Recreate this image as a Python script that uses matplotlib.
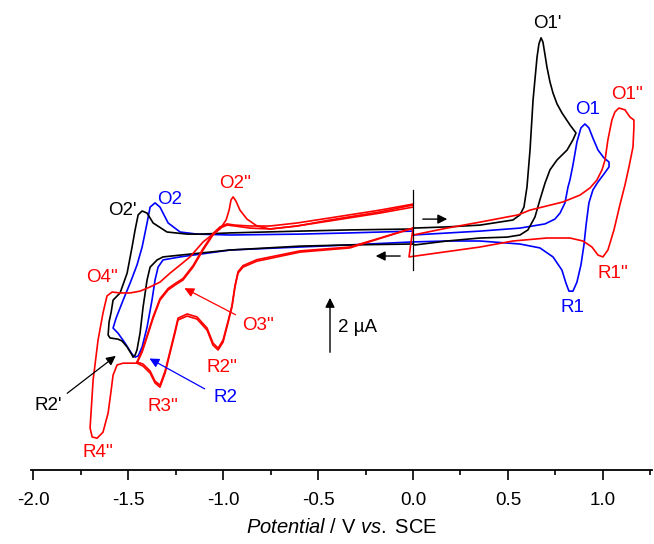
import matplotlib
matplotlib.use('Agg')
import matplotlib.pyplot as plt
from matplotlib.ticker import MultipleLocator

plt.rcParams['font.family'] = ['Liberation Sans', 'DejaVu Sans']
plt.rcParams['mathtext.fontset'] = 'custom'
plt.rcParams['mathtext.rm'] = 'Liberation Sans'
plt.rcParams['mathtext.it'] = 'Liberation Sans:italic'

# potential in V vs SCE, current in uA (anodic up)
black_v = [0.0, 0.179, 0.353, 0.526, 0.563, 0.584, 0.600, 0.616, 0.632, 0.653, 0.663, 0.674, 0.684,
           0.695, 0.705, 0.721, 0.737, 0.758, 0.784, 0.826, 0.858, 0.842, 0.811, 0.758, 0.721, 0.695,
           0.668, 0.642, 0.605, 0.563, 0.495, 0.353, 0.179, 0.011, 0.0,
           -0.332, -0.595, -0.963, -1.226, -1.316, -1.347, -1.384, -1.400, -1.421, -1.437, -1.453,
           -1.463, -1.474, -1.479, -1.505, -1.532, -1.553, -1.595, -1.605, -1.600, -1.589, -1.579,
           -1.542, -1.505, -1.479, -1.463, -1.447, -1.426, -1.400, -1.368, -1.295, -1.189, -1.121,
           -0.963, -0.595, -0.332, 0.0]
black_i = [0.13, 0.17, 0.23, 0.40, 0.57, 0.83, 1.50, 2.73, 4.40, 5.83, 6.27, 6.47, 6.33,
           5.90, 5.50, 5.00, 4.63, 4.27, 3.97, 3.57, 3.30, 3.07, 2.73, 2.40, 2.07, 1.63,
           1.07, 0.50, 0.07, -0.10, -0.17, -0.20, -0.30, -0.43, -0.40,
           -0.43, -0.47, -0.60, -0.77, -0.83, -0.93, -1.17, -1.60, -2.50, -3.37, -3.93,
           -4.10, -4.17, -4.10, -3.83, -3.63, -3.57, -3.53, -3.43, -3.00, -2.67, -2.27,
           -2.03, -1.37, -0.50, 0.07, 0.57, 0.70, 0.63, 0.30, 0.00, -0.07, -0.07,
           -0.03, 0.03, 0.07, 0.10]

blue_v = [0.0, 0.353, 0.563, 0.695, 0.747, 0.774, 0.800, 0.816, 0.826, 0.842, 0.863, 0.884, 0.905,
          0.926, 0.947, 0.974, 1.005, 1.032, 1.032, 1.005, 0.974, 0.947, 0.926, 0.911, 0.900, 0.884,
          0.863, 0.842, 0.821, 0.805, 0.784, 0.737, 0.668, 0.563, 0.353, 0.179, 0.0,
          -0.332, -0.595, -0.963, -1.226, -1.316, -1.342, -1.358, -1.374, -1.400, -1.426, -1.447,
          -1.463, -1.479, -1.516, -1.553, -1.579, -1.563, -1.526, -1.489, -1.453, -1.426, -1.400,
          -1.384, -1.358, -1.332, -1.289, -1.226, -1.137, -0.963, -0.595, -0.332, 0.0]
blue_i = [-0.10, 0.03, 0.13, 0.27, 0.43, 0.63, 0.97, 1.50, 1.73, 2.23, 3.00, 3.47, 3.60,
          3.47, 3.13, 2.73, 2.47, 2.33, 2.17, 1.93, 1.67, 1.40, 0.97, 0.23, -0.43, -1.10,
          -1.67, -1.97, -1.97, -1.70, -1.27, -0.83, -0.53, -0.40, -0.30, -0.30, -0.33,
          -0.43, -0.50, -0.60, -0.83, -0.93, -1.17, -1.60, -2.27, -3.17, -3.83, -4.13,
          -4.17, -4.07, -3.70, -3.37, -3.20, -2.87, -2.27, -1.70, -1.10, -0.50, 0.30,
          0.83, 0.97, 0.83, 0.30, 0.00, -0.07, -0.10, -0.07, -0.03, 0.03]

# red: positive loop, then first cathodic sweep down to -1.7 V
red_pos_v = [0.0, 0.179, 0.353, 0.553, 0.616, 0.789, 0.879, 0.932, 0.968, 0.995, 1.011, 1.026, 1.047,
             1.063, 1.084, 1.116, 1.142, 1.163, 1.163, 1.158, 1.137, 1.116, 1.089, 1.058, 1.026,
             1.000, 0.974, 0.942, 0.895, 0.826, 0.705, 0.526, 0.353, -0.021, 0.0]
red_pos_i = [-0.10, 0.13, 0.33, 0.57, 0.73, 1.00, 1.23, 1.47, 1.73, 2.07, 2.40, 3.07, 3.73,
             4.00, 4.13, 4.07, 3.83, 3.73, 3.50, 2.83, 2.17, 1.57, 0.90, 0.07, -0.60,
             -0.83, -0.77, -0.50, -0.30, -0.20, -0.20, -0.30, -0.50, -0.83, 0.13]

red_cat_v = [0.0, -0.332, -0.595, -0.789, -0.821, -0.895, -0.921, -0.937, -0.953, -0.974, -1.000,
             -1.026, -1.053, -1.084, -1.137, -1.189, -1.237, -1.253, -1.279, -1.305, -1.332, -1.358,
             -1.384, -1.421, -1.453]
red_cat_i = [0.13, -0.53, -0.67, -0.93, -0.97, -1.17, -1.37, -1.83, -2.50, -3.03, -3.67,
             -3.93, -3.77, -3.27, -2.90, -2.80, -2.93, -3.37, -4.03, -4.70, -5.17, -5.03,
             -4.70, -4.47, -4.37]
red_cat2_i = [0.13, -0.50, -0.63, -0.88, -0.92, -1.12, -1.32, -1.78, -2.45, -2.98, -3.60,
              -3.87, -3.70, -3.20, -2.83, -2.73, -2.87, -3.30, -3.97, -4.63, -5.10, -4.97,
              -4.63, -4.40, -4.33]

red_deep_v = [-1.453, -1.489, -1.526, -1.558, -1.579, -1.589, -1.605, -1.632, -1.663, -1.689, -1.700,
              -1.695, -1.684, -1.658, -1.632, -1.611, -1.584, -1.542, -1.489, -1.437, -1.384, -1.332,
              -1.279, -1.226, -1.174, -1.105, -1.053, -1.016, -0.984, -0.968, -0.958, -0.947, -0.932,
              -0.911, -0.874, -0.821, -0.753, -0.611, -0.437, -0.174, 0.0]
red_deep_i = [-4.37, -4.37, -4.37, -4.43, -4.77, -5.27, -6.03, -6.67, -6.87, -6.83, -6.53,
              -6.03, -4.93, -3.60, -2.70, -2.13, -2.00, -2.03, -2.03, -1.97, -1.83, -1.67,
              -1.37, -1.10, -0.83, -0.33, -0.07, 0.10, 0.40, 0.73, 1.07, 1.17, 1.03,
              0.73, 0.43, 0.20, 0.10, 0.20, 0.40, 0.67, 0.90]

red_ret_v = [-1.453, -1.426, -1.400, -1.368, -1.332, -1.289, -1.253, -1.211, -1.158, -1.105, -1.053,
             -1.016, -0.979, -0.937, -0.858, -0.753, -0.611, -0.437, -0.174, 0.0]
red_ret_i = [-4.37, -4.00, -3.50, -2.87, -2.27, -1.93, -1.77, -1.60, -1.17, -0.60, -0.10,
             0.13, 0.23, 0.20, 0.13, 0.10, 0.20, 0.37, 0.63, 0.83]
red_ret3_i = [-4.33, -3.95, -3.45, -2.82, -2.22, -1.88, -1.72, -1.55, -1.12, -0.55, -0.05,
              0.17, 0.27, 0.23, 0.20, 0.20, 0.30, 0.47, 0.73, 0.93]

labels = [("O1'", 0.705, 6.95, 'k'), ('O1', 0.921, 4.07, 'b'), ("O1''", 1.126, 4.57, 'r'),
          ('R1', 0.837, -2.53, 'b'), ("R1''", 1.053, -1.37, 'r'),
          ("O2'", -1.532, 0.73, 'k'), ('O2', -1.279, 1.07, 'b'), ("O2''", -0.937, 1.63, 'r'),
          ("O4''", -1.637, -1.50, 'r'), ("R2''", -1.005, -4.53, 'r'), ("R3''", -1.316, -5.83, 'r'),
          ("R4''", -1.658, -7.33, 'r')]
pointers = [("O3''", -0.816, -3.10, -0.921, -2.80, -1.216, -1.83, 'r'),
            ('R2', -0.989, -5.53, -1.084, -5.27, -1.400, -4.17, 'b'),
            ("R2'", -1.921, -5.77, -1.832, -5.43, -1.553, -4.07, 'k')]

fig = plt.figure(figsize=(6.54, 5.44), dpi=100)
ax = fig.add_axes([0.0474, 0.136, 0.9495, 0.864])

lw = 1.2
ax.plot(blue_v, blue_i, color='#0000ff', lw=lw)
ax.plot(black_v, black_i, color='k', lw=lw)
ax.plot(red_pos_v, red_pos_i, color='#ff0000', lw=lw)
ax.plot(red_cat_v, red_cat_i, color='#ff0000', lw=lw)
ax.plot(red_cat_v, red_cat2_i, color='#ff0000', lw=lw)
ax.plot(red_deep_v, red_deep_i, color='#ff0000', lw=lw)
ax.plot(red_ret_v, red_ret_i, color='#ff0000', lw=lw)
ax.plot(red_ret_v, red_ret3_i, color='#ff0000', lw=lw)

for txt, x, y, c in labels:
    ax.text(x, y, txt, color=c, fontsize=13.5, ha='center', va='center')
for txt, tx, ty, x0, y0, x1, y1, c in pointers:
    ax.text(tx, ty, txt, color=c, fontsize=13.5, ha='center', va='center')
    ax.annotate('', xy=(x1, y1), xytext=(x0, y0),
                arrowprops=dict(arrowstyle='-|>', color=c, lw=0.9, mutation_scale=14))

# scan direction marks at the start potential
ax.plot([0, 0], [1.40, -1.27], color='k', lw=0.9)
ax.annotate('', xy=(0.195, 0.43), xytext=(0.037, 0.43),
            arrowprops=dict(arrowstyle='-|>', color='k', lw=1.0, mutation_scale=14))
ax.annotate('', xy=(-0.211, -0.80), xytext=(-0.053, -0.80),
            arrowprops=dict(arrowstyle='-|>', color='k', lw=1.0, mutation_scale=14))

# 2 uA scale bar
ax.annotate('', xy=(-0.437, -2.10), xytext=(-0.437, -4.10),
            arrowprops=dict(arrowstyle='-|>', color='k', lw=1.0, mutation_scale=14))
ax.text(-0.395, -3.17, '2 µA', fontsize=13.5, ha='left', va='center')

ax.set_xlim(-2.011, 1.258)
ax.set_ylim(-7.93, 7.73)
for s in ['left', 'right', 'top']:
    ax.spines[s].set_visible(False)
ax.spines['bottom'].set_linewidth(1.3)
ax.set_yticks([])
ax.xaxis.set_minor_locator(MultipleLocator(0.25))
ax.set_xticks([-2.0, -1.5, -1.0, -0.5, 0.0, 0.5, 1.0])
ax.set_xticklabels(['-2.0', '-1.5', '-1.0', '-0.5', '0.0', '0.5', '1.0'])
ax.tick_params(axis='x', which='major', direction='out', length=7, width=1.2, labelsize=13.5, pad=9)
ax.tick_params(axis='x', which='minor', direction='out', length=3.5, width=1.2)
ax.set_xlabel(r'$Potential$ / V $vs.$ SCE', fontsize=14.5, labelpad=6)
ax.patch.set_visible(False)

fig.savefig('out.png', dpi=100)
